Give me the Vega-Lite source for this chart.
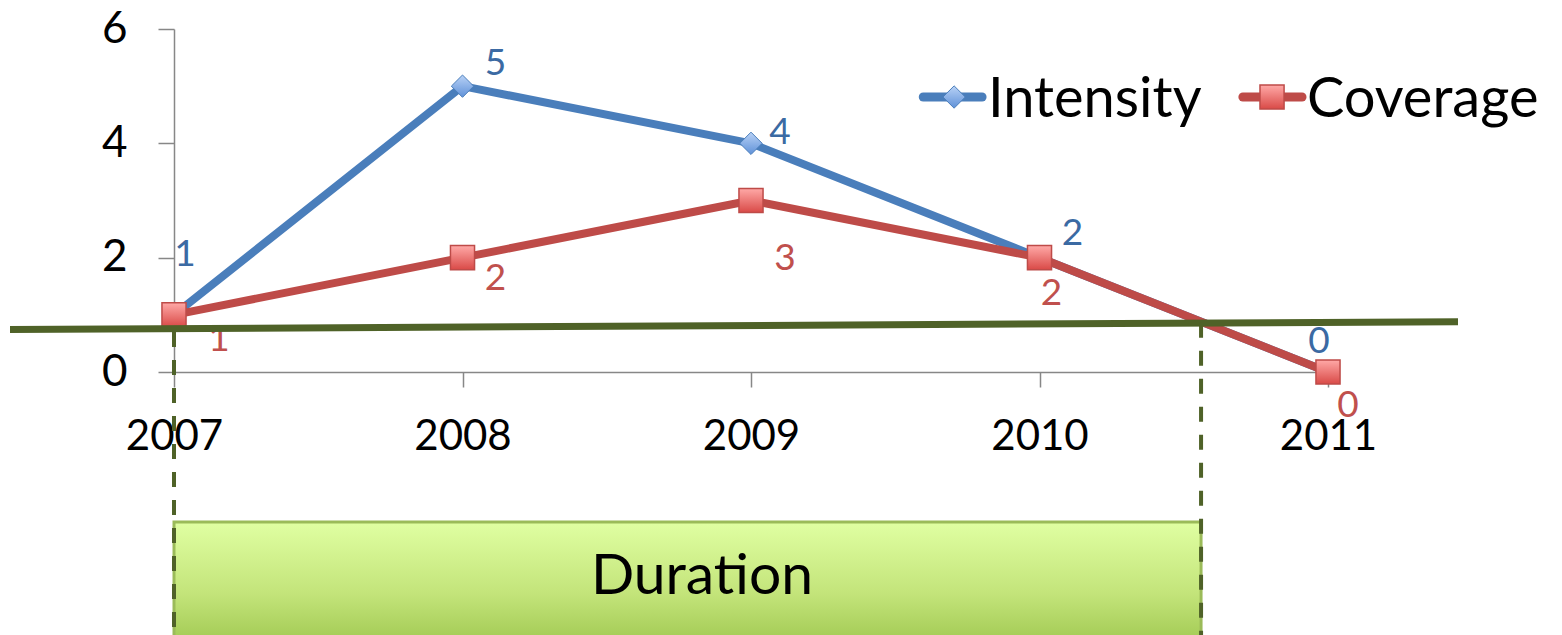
{
  "$schema": "https://vega.github.io/schema/vega-lite/v6.json",
  "width": 1154,
  "height": 343,
  "autosize": "none",
  "padding": {"left": 174, "top": 29, "right": 234, "bottom": 263},
  "background": "white",
  "config": {
    "view": {"stroke": null},
    "font": "Lato",
    "axis": {
      "grid": false,
      "title": null,
      "domainColor": "#878787",
      "domainWidth": 1.5,
      "tickColor": "#878787",
      "tickWidth": 1.5,
      "labelFont": "Lato",
      "labelFontSize": 42,
      "labelColor": "#000000"
    }
  },
  "datasets": {
    "series": [
      {"year": 2007, "series": "Intensity", "value": 1},
      {"year": 2008, "series": "Intensity", "value": 5},
      {"year": 2009, "series": "Intensity", "value": 4},
      {"year": 2010, "series": "Intensity", "value": 2},
      {"year": 2011, "series": "Intensity", "value": 0},
      {"year": 2007, "series": "Coverage", "value": 1},
      {"year": 2008, "series": "Coverage", "value": 2},
      {"year": 2009, "series": "Coverage", "value": 3},
      {"year": 2010, "series": "Coverage", "value": 2},
      {"year": 2011, "series": "Coverage", "value": 0}
    ],
    "threshold": [
      {"year": 2006.4315, "level": 0.743},
      {"year": 2011.4506, "level": 0.88}
    ],
    "span": [
      {"start": 2007, "end": 2010.56, "label": "Duration"}
    ]
  },
  "layer": [
    {
      "data": {"name": "series"},
      "mark": {"type": "line", "strokeWidth": 8, "strokeJoin": "round"},
      "encoding": {
        "x": {
          "field": "year", "type": "quantitative", "title": null,
          "scale": {"domain": [2007, 2011], "nice": false, "zero": false},
          "axis": {"values": [2007, 2008, 2009, 2010, 2011], "format": "d", "tickSize": 15, "labelPadding": 29, "labelFlush": false}
        },
        "y": {
          "field": "value", "type": "quantitative", "title": null,
          "scale": {"domain": [0, 6], "nice": false},
          "axis": {"values": [0, 2, 4, 6], "format": "d", "tickSize": 16, "labelPadding": 31, "labelFontSize": 44}
        },
        "color": {
          "field": "series", "type": "nominal", "legend": null,
          "scale": {"domain": ["Intensity", "Coverage"], "range": ["#4a7ebb", "#be4b48"]}
        },
        "order": {"field": "year", "type": "quantitative"}
      }
    },
    {
      "data": {"name": "series"},
      "transform": [{"filter": "datum.series === 'Intensity'"}],
      "mark": {
        "type": "point", "shape": "diamond", "size": 500, "filled": true, "opacity": 1,
        "stroke": "#4a7ebb", "strokeWidth": 1,
        "fill": {"gradient": "linear", "x1": 0, "y1": 0, "x2": 0, "y2": 1,
          "stops": [{"offset": 0, "color": "#b9d2f6"}, {"offset": 1, "color": "#5f91d8"}]}
      },
      "encoding": {
        "x": {"field": "year", "type": "quantitative", "title": null},
        "y": {"field": "value", "type": "quantitative", "title": null}
      }
    },
    {
      "data": {"name": "series"},
      "transform": [{"filter": "datum.series === 'Coverage'"}],
      "mark": {
        "type": "point", "shape": "square", "size": 580, "filled": true, "opacity": 1,
        "stroke": "#be4b48", "strokeWidth": 1.5,
        "fill": {"gradient": "linear", "x1": 0, "y1": 0, "x2": 0, "y2": 1,
          "stops": [{"offset": 0, "color": "#ffa9a7"}, {"offset": 1, "color": "#d94a47"}]}
      },
      "encoding": {
        "x": {"field": "year", "type": "quantitative", "title": null},
        "y": {"field": "value", "type": "quantitative", "title": null}
      }
    },
    {"data": {"name": "series"}, "transform": [{"filter": "datum.series === 'Intensity' && datum.year === 2007"}],
     "mark": {"type": "text", "fontSize": 37, "color": "#3b6aa3", "align": "center", "baseline": "middle", "dx": 11, "dy": -60},
     "encoding": {"x": {"field": "year", "type": "quantitative", "title": null}, "y": {"field": "value", "type": "quantitative", "title": null}, "text": {"field": "value"}}},
    {"data": {"name": "series"}, "transform": [{"filter": "datum.series === 'Intensity' && datum.year === 2008"}],
     "mark": {"type": "text", "fontSize": 37, "color": "#3b6aa3", "align": "center", "baseline": "middle", "dx": 33, "dy": -22},
     "encoding": {"x": {"field": "year", "type": "quantitative", "title": null}, "y": {"field": "value", "type": "quantitative", "title": null}, "text": {"field": "value"}}},
    {"data": {"name": "series"}, "transform": [{"filter": "datum.series === 'Intensity' && datum.year === 2009"}],
     "mark": {"type": "text", "fontSize": 37, "color": "#3b6aa3", "align": "center", "baseline": "middle", "dx": 29, "dy": -10},
     "encoding": {"x": {"field": "year", "type": "quantitative", "title": null}, "y": {"field": "value", "type": "quantitative", "title": null}, "text": {"field": "value"}}},
    {"data": {"name": "series"}, "transform": [{"filter": "datum.series === 'Intensity' && datum.year === 2010"}],
     "mark": {"type": "text", "fontSize": 37, "color": "#3b6aa3", "align": "center", "baseline": "middle", "dx": 33, "dy": -24},
     "encoding": {"x": {"field": "year", "type": "quantitative", "title": null}, "y": {"field": "value", "type": "quantitative", "title": null}, "text": {"field": "value"}}},
    {"data": {"name": "series"}, "transform": [{"filter": "datum.series === 'Intensity' && datum.year === 2011"}],
     "mark": {"type": "text", "fontSize": 37, "color": "#3b6aa3", "align": "center", "baseline": "middle", "dx": -9, "dy": -30},
     "encoding": {"x": {"field": "year", "type": "quantitative", "title": null}, "y": {"field": "value", "type": "quantitative", "title": null}, "text": {"field": "value"}}},
    {"data": {"name": "series"}, "transform": [{"filter": "datum.series === 'Coverage' && datum.year === 2007"}],
     "mark": {"type": "text", "fontSize": 37, "color": "#c0504d", "align": "center", "baseline": "middle", "dx": 45, "dy": 25},
     "encoding": {"x": {"field": "year", "type": "quantitative", "title": null}, "y": {"field": "value", "type": "quantitative", "title": null}, "text": {"field": "value"}}},
    {"data": {"name": "series"}, "transform": [{"filter": "datum.series === 'Coverage' && datum.year === 2008"}],
     "mark": {"type": "text", "fontSize": 37, "color": "#c0504d", "align": "center", "baseline": "middle", "dx": 33, "dy": 21},
     "encoding": {"x": {"field": "year", "type": "quantitative", "title": null}, "y": {"field": "value", "type": "quantitative", "title": null}, "text": {"field": "value"}}},
    {"data": {"name": "series"}, "transform": [{"filter": "datum.series === 'Coverage' && datum.year === 2009"}],
     "mark": {"type": "text", "fontSize": 37, "color": "#c0504d", "align": "center", "baseline": "middle", "dx": 34, "dy": 58},
     "encoding": {"x": {"field": "year", "type": "quantitative", "title": null}, "y": {"field": "value", "type": "quantitative", "title": null}, "text": {"field": "value"}}},
    {"data": {"name": "series"}, "transform": [{"filter": "datum.series === 'Coverage' && datum.year === 2010"}],
     "mark": {"type": "text", "fontSize": 37, "color": "#c0504d", "align": "center", "baseline": "middle", "dx": 12, "dy": 36},
     "encoding": {"x": {"field": "year", "type": "quantitative", "title": null}, "y": {"field": "value", "type": "quantitative", "title": null}, "text": {"field": "value"}}},
    {"data": {"name": "series"}, "transform": [{"filter": "datum.series === 'Coverage' && datum.year === 2011"}],
     "mark": {"type": "text", "fontSize": 37, "color": "#c0504d", "align": "center", "baseline": "middle", "dx": 20, "dy": 34},
     "encoding": {"x": {"field": "year", "type": "quantitative", "title": null}, "y": {"field": "value", "type": "quantitative", "title": null}, "text": {"field": "value"}}},
    {
      "data": {"name": "threshold"},
      "mark": {"type": "line", "color": "#4f6228", "strokeWidth": 7, "clip": false},
      "encoding": {
        "x": {"field": "year", "type": "quantitative", "title": null},
        "y": {"field": "level", "type": "quantitative", "title": null}
      }
    },
    {
      "data": {"name": "span"},
      "mark": {
        "type": "rect", "clip": false, "stroke": "#9bbb59", "strokeWidth": 3,
        "fill": {"gradient": "linear", "x1": 0, "y1": 0, "x2": 0, "y2": 1,
          "stops": [{"offset": 0, "color": "#e0ffa2"}, {"offset": 0.55, "color": "#c3e47a"}, {"offset": 1, "color": "#9cc54c"}]}
      },
      "encoding": {
        "x": {"field": "start", "type": "quantitative", "title": null},
        "x2": {"field": "end"},
        "y": {"datum": -2.624, "type": "quantitative"},
        "y2": {"datum": -4.9}
      }
    },
    {
      "data": {"name": "span"},
      "mark": {"type": "rule", "color": "#4f6228", "strokeWidth": 4, "strokeDash": [15, 13], "clip": false},
      "encoding": {
        "x": {"field": "start", "type": "quantitative", "title": null},
        "y": {"datum": 0.7, "type": "quantitative"},
        "y2": {"datum": -4.9}
      }
    },
    {
      "data": {"name": "span"},
      "mark": {"type": "rule", "color": "#4f6228", "strokeWidth": 4, "strokeDash": [15, 13], "clip": false},
      "encoding": {
        "x": {"field": "end", "type": "quantitative", "title": null},
        "y": {"datum": 0.86, "type": "quantitative"},
        "y2": {"datum": -4.9}
      }
    },
    {
      "data": {"name": "span"},
      "mark": {"type": "text", "fontSize": 57, "color": "#000000", "align": "center", "baseline": "middle"},
      "encoding": {
        "x": {"datum": 2008.83, "type": "quantitative"},
        "y": {"datum": -3.59, "type": "quantitative"},
        "text": {"field": "label"}
      }
    },
    {
      "data": {"values": [{"series": "Intensity"}]},
      "mark": {"type": "rule", "color": "#4a7ebb", "strokeWidth": 9, "strokeCap": "round"},
      "encoding": {
        "x": {"datum": 2009.597, "type": "quantitative"},
        "x2": {"datum": 2009.801},
        "y": {"datum": 4.81, "type": "quantitative"}
      }
    },
    {
      "data": {"values": [{"series": "Intensity"}]},
      "mark": {
        "type": "point", "shape": "diamond", "size": 500, "filled": true, "opacity": 1,
        "stroke": "#4a7ebb", "strokeWidth": 1,
        "fill": {"gradient": "linear", "x1": 0, "y1": 0, "x2": 0, "y2": 1,
          "stops": [{"offset": 0, "color": "#b9d2f6"}, {"offset": 1, "color": "#5f91d8"}]}
      },
      "encoding": {
        "x": {"datum": 2009.704, "type": "quantitative"},
        "y": {"datum": 4.81, "type": "quantitative"}
      }
    },
    {
      "data": {"values": [{"series": "Intensity"}]},
      "mark": {"type": "text", "fontSize": 56, "color": "#000000", "align": "left", "baseline": "alphabetic"},
      "encoding": {
        "x": {"datum": 2009.8215, "type": "quantitative"},
        "y": {"datum": 4.46, "type": "quantitative"},
        "text": {"field": "series"}
      }
    },
    {
      "data": {"values": [{"series": "Coverage"}]},
      "mark": {"type": "rule", "color": "#be4b48", "strokeWidth": 9, "strokeCap": "round"},
      "encoding": {
        "x": {"datum": 2010.705, "type": "quantitative"},
        "x2": {"datum": 2010.91},
        "y": {"datum": 4.81, "type": "quantitative"}
      }
    },
    {
      "data": {"values": [{"series": "Coverage"}]},
      "mark": {
        "type": "point", "shape": "square", "size": 580, "filled": true, "opacity": 1,
        "stroke": "#be4b48", "strokeWidth": 1.5,
        "fill": {"gradient": "linear", "x1": 0, "y1": 0, "x2": 0, "y2": 1,
          "stops": [{"offset": 0, "color": "#ffa9a7"}, {"offset": 1, "color": "#d94a47"}]}
      },
      "encoding": {
        "x": {"datum": 2010.806, "type": "quantitative"},
        "y": {"datum": 4.81, "type": "quantitative"}
      }
    },
    {
      "data": {"values": [{"series": "Coverage"}]},
      "mark": {"type": "text", "fontSize": 56, "color": "#000000", "align": "left", "baseline": "alphabetic"},
      "encoding": {
        "x": {"datum": 2010.927, "type": "quantitative"},
        "y": {"datum": 4.46, "type": "quantitative"},
        "text": {"field": "series"}
      }
    }
  ]
}
